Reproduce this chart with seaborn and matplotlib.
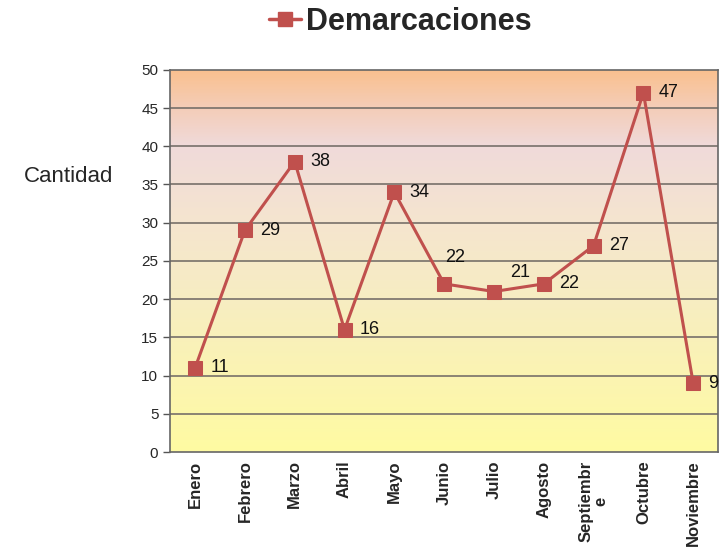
import numpy as np
import pandas as pd
import matplotlib
matplotlib.use('Agg')
import matplotlib.pyplot as plt
from matplotlib.colors import LinearSegmentedColormap
from matplotlib.lines import Line2D
import seaborn as sns

meses = ["Enero", "Febrero", "Marzo", "Abril", "Mayo", "Junio", "Julio",
         "Agosto", "Septiembr\ne", "Octubre", "Noviembre"]
cantidad = [11, 29, 38, 16, 34, 22, 21, 22, 27, 47, 9]
# label offsets (dx, dy) in points
offsets = [(11, 0), (11, 0), (11, 0), (11, 0), (11, 0), (1, 19), (12, 14),
           (11, 0), (11, 0), (11, 0), (11, 0)]

sns.set_style("white")
plt.rcParams['font.family'] = ['Liberation Sans', 'DejaVu Sans']

RED = "#C0504D"

df = pd.DataFrame({"mes": meses, "cantidad": cantidad})

fig = plt.figure(figsize=(7.21, 5.54), dpi=100)
ax = fig.add_axes([0.236, 0.184, 0.76, 0.69])

# gradient background
grad = LinearSegmentedColormap.from_list(
    "bg", [(0.0, "#FFFBA2"), (0.4, "#F7EDC2"), (0.6, "#F5E5CF"),
           (0.8, "#F0DADA"), (0.9, "#F4CDB8"), (1.0, "#FAC08E")])
ax.imshow(np.linspace(0, 1, 256).reshape(-1, 1), cmap=grad, origin="lower",
          extent=(-0.5, 10.5, 0, 50), aspect="auto", zorder=0)

for y in range(5, 50, 5):
    ax.axhline(y, color="#77706a", lw=1.2, zorder=1)

sns.lineplot(data=df, x="mes", y="cantidad", sort=False, ax=ax, color=RED,
             lw=2.2, marker="s", markersize=9.5, markeredgecolor=RED, zorder=3)

for i, v in enumerate(cantidad):
    ax.annotate(str(v), (i, v), xytext=offsets[i], textcoords="offset points",
                ha="left", va="center", fontsize=13, color="#111111",
                annotation_clip=False)

ax.set_xlim(-0.5, 10.5)
ax.set_ylim(0, 50)
ax.set_yticks(range(0, 51, 5))
ax.tick_params(axis="y", labelsize=11, length=5, direction="out", left=True,
               width=1, color="#555555")
ax.tick_params(axis="x", length=0, pad=6)
ax.set_xticks(range(len(meses)))
ax.set_xticklabels(meses, rotation=90, fontsize=12, fontweight="bold",
                   va="top", ha="center", linespacing=0.95)
ax.set_xlabel("")
ax.set_ylabel("Cantidad", rotation=0, fontsize=16, labelpad=0,
              ha="center", va="center")
ax.yaxis.set_label_coords(-0.186, 0.72)
for s in ax.spines.values():
    s.set_color("#666666")
    s.set_linewidth(1.2)

handle = Line2D([], [], color=RED, lw=2.5, marker="s", markersize=10)
fig.legend([handle], ["Demarcaciones"], loc="center",
           bbox_to_anchor=(400 / 721, 1 - 22 / 554), frameon=False,
           prop={"size": 22, "weight": "bold"}, handlelength=1.05,
           handletextpad=0.15)

fig.savefig("out.png", dpi=100)
